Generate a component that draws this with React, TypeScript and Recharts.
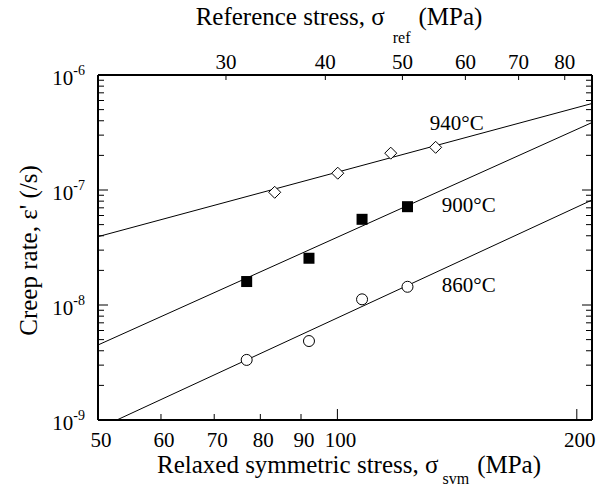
import { ComposedChart, Line, Scatter, XAxis, YAxis, ReferenceDot, Label } from 'recharts'

const FONT = '"Liberation Serif", "Times New Roman", Times, serif'

// measured creep rates (/s) vs relaxed symmetric stress (MPa)
const stress940 = [83.4, 100.1, 116.7, 132.9]
const rate940 = [9.55e-8, 1.4e-7, 2.09e-7, 2.35e-7]
const stress900 = [76.9, 92.1, 107.4, 122.5]
const rate900 = [1.6e-8, 2.55e-8, 5.56e-8, 7.16e-8]
const stress860 = [76.9, 92.1, 107.4, 122.5]
const rate860 = [3.33e-9, 4.86e-9, 1.12e-8, 1.44e-8]

// power-law fits, given by their end points
const fitStress940 = [50, 209]
const fitRate940 = [3.93e-8, 5.65e-7]
const fitStress900 = [50, 209]
const fitRate900 = [4.49e-9, 3.86e-7]
const fitStress860 = [52.8, 209]
const fitRate860 = [1e-9, 8.18e-8]

const tempNames = ['940°C', '900°C', '860°C']
// where each temperature label sits, in data units
const tempLabelStress = [130.7, 135.3, 135.3]
const tempLabelRate = [3.83e-7, 7.41e-8, 1.49e-8]

const svmDomain = [50, 209]
const svmTicks = [50, 60, 70, 80, 90, 100, 200]
const svmMajor = [50, 100, 200]
const refTicks = [30, 40, 50, 60, 70, 80]
const rateDecades = [1e-9, 1e-8, 1e-7, 1e-6]

// reference stress = svm stress / (1 + sqrt 2)
const REF_RATIO = 1 + Math.SQRT2
const refDomain = svmDomain.map((v) => v / REF_RATIO)

const rateTicks = rateDecades.flatMap((d, i) =>
  i === rateDecades.length - 1 ? [d] : [1, 2, 3, 4, 5, 6, 7, 8, 9].map((m) => m * d)
)

const pts = (xs: number[], ys: number[]) => xs.map((x, i) => ({ x, y: ys[i] }))

const isDecade = (v: number) => Math.abs(Math.log10(v) - Math.round(Math.log10(v))) < 1e-6

const LeftTick = ({ x, y, payload }: any) => {
  const major = isDecade(payload.value)
  const exp = Math.round(Math.log10(payload.value))
  return (
    <g>
      <line x1={x} x2={x + (major ? 10 : 6)} y1={y} y2={y} stroke="#000" strokeWidth={1} />
      {major && (
        <text x={x - 13} y={y + 10} textAnchor="end" fontFamily={FONT} fontSize={21} fill="#000">
          10<tspan dy={-10} fontSize={14}>{exp}</tspan>
        </text>
      )}
    </g>
  )
}

const RightTick = ({ x, y, payload }: any) => {
  const major = isDecade(payload.value)
  return <line x1={x} x2={x - (major ? 10 : 6)} y1={y} y2={y} stroke="#000" strokeWidth={1} />
}

const BottomTick = ({ x, y, payload }: any) => {
  const major = svmMajor.includes(payload.value)
  return (
    <g>
      <line x1={x} x2={x} y1={y} y2={y - (major ? 11 : 6)} stroke="#000" strokeWidth={1} />
      <text x={x + 3} y={y + 27} textAnchor="middle" fontFamily={FONT} fontSize={21} fill="#000">
        {payload.value}
      </text>
    </g>
  )
}

const TopTick = ({ x, y, payload }: any) => (
  <g>
    <line x1={x} x2={x} y1={y} y2={y + 5} stroke="#000" strokeWidth={1} />
    <text x={x} y={y - 6} textAnchor="middle" fontFamily={FONT} fontSize={21} fill="#000">
      {payload.value}
    </text>
  </g>
)

const BottomTitle = ({ viewBox }: any) => (
  <text x={viewBox.x + viewBox.width / 2 + 4} y={viewBox.y + 53} textAnchor="middle" fontFamily={FONT} fontSize={25} fill="#000">
    Relaxed symmetric stress, σ
    <tspan dy={11} dx={4} fontSize={16}>svm</tspan>
    <tspan dy={-11} dx={8}>(MPa)</tspan>
  </text>
)

const TopTitle = ({ viewBox }: any) => (
  <text x={viewBox.x + viewBox.width / 2 - 6} y={viewBox.y + viewBox.height - 50} textAnchor="middle" fontFamily={FONT} fontSize={25} fill="#000">
    Reference stress, σ
    <tspan dy={18} dx={8} fontSize={16}>ref</tspan>
    <tspan dy={-18} dx={8}>(MPa)</tspan>
  </text>
)

const LeftTitle = ({ viewBox }: any) => {
  const cx = viewBox.x + 19
  const cy = viewBox.y + viewBox.height / 2 + 3
  return (
    <text x={cx} y={cy} transform={`rotate(-90 ${cx} ${cy})`} textAnchor="middle" fontFamily={FONT} fontSize={25} fill="#000">
      Creep rate, ε' (/s)
    </text>
  )
}

const Diamond = ({ cx, cy }: any) => (
  <path d={`M${cx},${cy - 6}L${cx + 6},${cy}L${cx},${cy + 6}L${cx - 6},${cy}Z`} fill="#fff" stroke="#000" strokeWidth={1} />
)
const Square = ({ cx, cy }: any) => <rect x={cx - 5.5} y={cy - 5.5} width={11} height={11} fill="#000" />
const Circle = ({ cx, cy }: any) => <circle cx={cx} cy={cy} r={5.5} fill="#fff" stroke="#000" strokeWidth={1} />

const TempText = (text: string) => ({ cx, cy }: any) => (
  <text x={cx} y={cy + 7} fontFamily={FONT} fontSize={21} fill="#000">
    {text}
  </text>
)

const fits = [
  pts(fitStress940, fitRate940),
  pts(fitStress900, fitRate900),
  pts(fitStress860, fitRate860),
]

export default function App() {
  return (
    <div style={{ position: 'absolute', left: 0, top: 0, width: 607, height: 488, background: '#fff' }}>
      <ComposedChart width={607} height={488} margin={{ top: 15, right: 10, bottom: 8, left: 18 }}>
        <XAxis
          xAxisId="svm"
          dataKey="x"
          type="number"
          scale="log"
          domain={svmDomain}
          allowDataOverflow
          ticks={svmTicks}
          interval={0}
          height={60}
          tickSize={0}
          tickMargin={0}
          tickLine={false}
          tick={BottomTick}
          axisLine={{ stroke: '#000', strokeWidth: 2 }}
        >
          <Label content={BottomTitle} />
        </XAxis>
        <XAxis
          xAxisId="ref"
          orientation="top"
          dataKey="x"
          type="number"
          scale="log"
          domain={refDomain}
          allowDataOverflow
          ticks={refTicks}
          interval={0}
          height={60}
          tickSize={0}
          tickMargin={0}
          tickLine={false}
          tick={TopTick}
          axisLine={{ stroke: '#000', strokeWidth: 2 }}
        >
          <Label content={TopTitle} />
        </XAxis>
        <YAxis
          yAxisId="rate"
          dataKey="y"
          type="number"
          scale="log"
          domain={[rateDecades[0], rateDecades[3]]}
          allowDataOverflow
          ticks={rateTicks}
          interval={0}
          width={80}
          tickSize={0}
          tickMargin={0}
          tickLine={false}
          tick={LeftTick}
          axisLine={{ stroke: '#000', strokeWidth: 2 }}
        >
          <Label content={LeftTitle} />
        </YAxis>
        <YAxis
          yAxisId="rateRight"
          orientation="right"
          dataKey="y"
          type="number"
          scale="log"
          domain={[rateDecades[0], rateDecades[3]]}
          allowDataOverflow
          ticks={rateTicks}
          interval={0}
          width={5}
          tickSize={0}
          tickMargin={0}
          tickLine={false}
          tick={RightTick}
          axisLine={{ stroke: '#000', strokeWidth: 2 }}
        />

        {fits.map((d, i) => (
          <Line
            key={`fit-${i}`}
            data={d}
            dataKey="y"
            xAxisId="svm"
            yAxisId="rate"
            type="linear"
            stroke="#000"
            strokeWidth={1}
            dot={false}
            activeDot={false}
            isAnimationActive={false}
          />
        ))}

        <Scatter data={pts(stress940, rate940)} xAxisId="svm" yAxisId="rate" shape={Diamond} isAnimationActive={false} />
        <Scatter data={pts(stress900, rate900)} xAxisId="svm" yAxisId="rate" shape={Square} isAnimationActive={false} />
        <Scatter data={pts(stress860, rate860)} xAxisId="svm" yAxisId="rate" shape={Circle} isAnimationActive={false} />

        {tempNames.map((t, i) => (
          <ReferenceDot
            key={t}
            xAxisId="svm"
            yAxisId="rate"
            x={tempLabelStress[i]}
            y={tempLabelRate[i]}
            r={0}
            shape={TempText(t)}
          />
        ))}
      </ComposedChart>
    </div>
  )
}
